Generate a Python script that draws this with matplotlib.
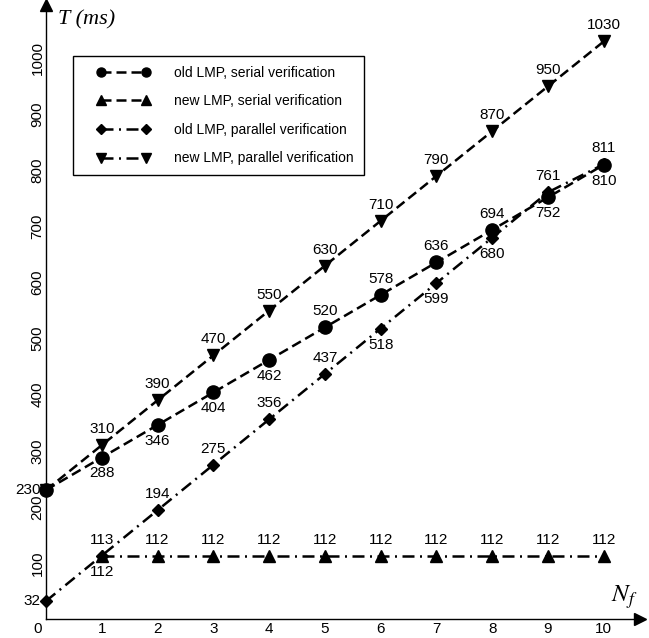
import matplotlib
matplotlib.use('Agg')
import matplotlib.pyplot as plt
from matplotlib.lines import Line2D
from matplotlib.legend_handler import HandlerLine2D

plt.rcParams['font.family'] = ['Liberation Sans', 'DejaVu Sans']
plt.rcParams['mathtext.fontset'] = 'stix'

# data
nf = list(range(0, 11))
old_serial = [230, 288, 346, 404, 462, 520, 578, 636, 694, 752, 810]
old_serial_pos = ['l', 'b', 'b', 'b', 'b', 't', 't', 't', 't', 'b', 'b']
new_serial_x = list(range(1, 11))
new_serial = [112, 112, 112, 112, 112, 112, 112, 112, 112, 112]
new_serial_pos = ['b', 't', 't', 't', 't', 't', 't', 't', 't', 't']
old_parallel = [32, 113, 194, 275, 356, 437, 518, 599, 680, 761, 811]
old_parallel_pos = ['l', 't', 't', 't', 't', 't', 'b', 'b', 'b', 't', 't']
new_parallel = [230, 310, 390, 470, 550, 630, 710, 790, 870, 950, 1030]
new_parallel_pos = [None, 't', 't', 't', 't', 't', 't', 't', 't', 't', 't']

legend_labels = ['old LMP, serial verification',
                 'new LMP, serial verification',
                 'old LMP, parallel verification',
                 'new LMP, parallel verification']

dashed = (0, (4, 2))
dashdot = (0, (4.8, 2.2, 0.8, 2.2))
LW = 1.8

fig = plt.figure(figsize=(6.49, 6.38), dpi=100)
ax = fig.add_axes([46 / 649, 19 / 638, 594 / 649, 614 / 638])

ax.plot(nf, new_parallel, color='k', linestyle=dashed, lw=LW,
        marker='v', ms=8.5, clip_on=False)
ax.plot(nf, old_serial, color='k', linestyle=dashed, lw=LW,
        marker='o', ms=9.5, clip_on=False)
ax.plot(nf, old_parallel, color='k', linestyle=dashdot, lw=LW,
        marker='D', ms=6.5, clip_on=False)
ax.plot(new_serial_x, new_serial, color='k', linestyle=dashdot, lw=LW,
        marker='^', ms=8.5, clip_on=False)


def label_points(xs, ys, pos):
    for x, y, p in zip(xs, ys, pos):
        if p is None:
            continue
        if p == 't':
            off, ha = (0, 11.5), 'center'
        elif p == 'b':
            off, ha = (0, -11.5), 'center'
        else:
            off, ha = (-4, 0), 'right'
        ax.annotate(str(y), (x, y), xytext=off, textcoords='offset points',
                    ha=ha, va='center', fontsize=11)


label_points(nf, old_serial, old_serial_pos)
label_points(new_serial_x, new_serial, new_serial_pos)
label_points(nf, old_parallel, old_parallel_pos)
label_points(nf, new_parallel, new_parallel_pos)

ax.set_xlim(0, 10.65)
ax.set_ylim(0, 1095)
ax.set_xticks(range(1, 11))
ax.set_yticks(range(100, 1001, 100))
ax.tick_params(length=0, labelsize=11)
ax.tick_params(axis='x', pad=2)
ax.tick_params(axis='y', pad=1)
for t in ax.get_yticklabels():
    t.set_rotation(90)
    t.set_va('center')

for s in ['top', 'right']:
    ax.spines[s].set_visible(False)
ax.spines['left'].set_linewidth(1)
ax.spines['bottom'].set_linewidth(1)
ax.plot(1, 0, '>k', ms=9, transform=ax.get_yaxis_transform(), clip_on=False)
ax.plot(0, 1, '^k', ms=9, transform=ax.get_xaxis_transform(), clip_on=False)

ax.annotate('0', (0, 0), xytext=(-6, -7), textcoords='offset points',
            ha='center', va='center', fontsize=11)
ax.text(0.02, 0.975, 'T (ms)', transform=ax.transAxes, fontsize=16,
        family='Liberation Serif', style='italic', va='center', ha='left')
ax.text(0.952, 0.035, '$N_f$', transform=ax.transAxes, fontsize=18,
        va='center', ha='left')

handles = [
    Line2D([], [], color='k', linestyle=dashed, lw=LW, marker='o', ms=6.5),
    Line2D([], [], color='k', linestyle=dashed, lw=LW, marker='^', ms=7),
    Line2D([], [], color='k', linestyle=dashdot, lw=LW, marker='D', ms=5),
    Line2D([], [], color='k', linestyle=dashdot, lw=LW, marker='v', ms=7),
]
leg = ax.legend(handles, legend_labels, loc='upper left',
                bbox_to_anchor=(0.045, 0.917), borderaxespad=0,
                numpoints=2, fontsize=10, fancybox=False, handlelength=5.9,
                handletextpad=0.72, labelspacing=1.05, borderpad=0.7,
                framealpha=1,
                handler_map={Line2D: HandlerLine2D(marker_pad=1.3)})
leg.get_frame().set_edgecolor('k')
leg.get_frame().set_linewidth(1)

fig.savefig('out.png', dpi=100)
